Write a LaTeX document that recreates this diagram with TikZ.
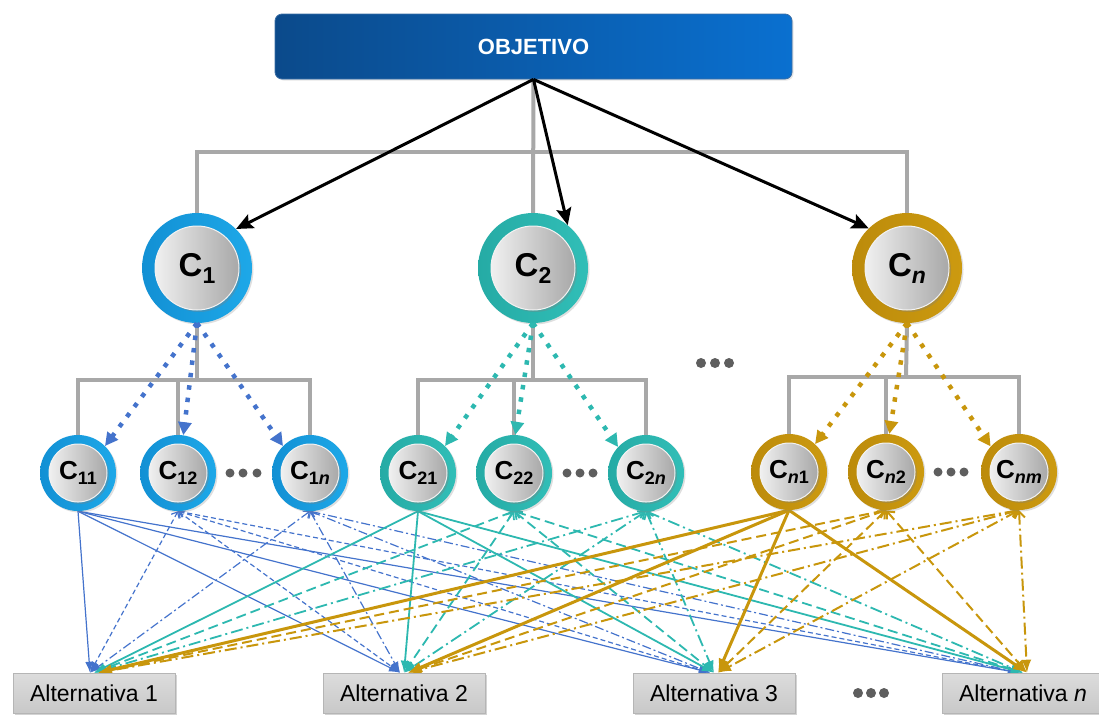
\documentclass[tikz,border=0pt]{standalone}
\usepackage{fontspec}
\setmainfont{Liberation Sans}
\usetikzlibrary{arrows.meta,shadows}

\definecolor{objL}{HTML}{0B4A8B}
\definecolor{objR}{HTML}{0A70D0}
\definecolor{objEdge}{HTML}{3B6EA5}
\definecolor{ringA}{HTML}{1EA8E8}
\definecolor{ringAd}{HTML}{1290D4}
\definecolor{ringB}{HTML}{31BEB7}
\definecolor{ringBd}{HTML}{25ABA5}
\definecolor{ringC}{HTML}{CC9A10}
\definecolor{ringCd}{HTML}{BC8B0B}
\definecolor{lnA}{HTML}{4473CC}
\definecolor{lnB}{HTML}{2DB8B0}
\definecolor{lnC}{HTML}{C8960C}
\definecolor{bracket}{HTML}{A8A8A8}
\definecolor{dotgray}{HTML}{5E5E5E}
\definecolor{diskL}{HTML}{F0F0F0}
\definecolor{diskR}{HTML}{A8A8A8}
\definecolor{altT}{HTML}{DCDCDC}
\definecolor{altB}{HTML}{C8C8C8}
\definecolor{altEdge}{HTML}{B5B5B5}

\pgfdeclarelayer{back}
\pgfsetlayers{back,main}

\newcommand\critbig[1]{{\fontsize{33}{33}\selectfont\bfseries C\raisebox{-7pt}{\fontsize{23}{23}\selectfont #1}}}
\newcommand\critsmall[1]{{\fontsize{26}{26}\selectfont\bfseries C\raisebox{-5pt}{\fontsize{18}{18}\selectfont #1}}}

\tikzset{
  x=1pt, y=-1pt,
  objbox/.style={rectangle, rounded corners=7pt, minimum width=517pt, minimum height=65pt,
    left color=objL, right color=objR, draw=objEdge, line width=0.8pt,
    text=white, font=\bfseries\fontsize{22}{22}\selectfont,
    drop shadow={opacity=0.2, shadow xshift=1.5pt, shadow yshift=-1.5pt}},
  ring/.style={circle, inner sep=0pt, minimum size=#1,
    drop shadow={opacity=0.25, shadow xshift=1.5pt, shadow yshift=-1.5pt}},
  ringblue/.style={left color=ringAd, right color=ringA},
  ringteal/.style={left color=ringBd, right color=ringB},
  ringgold/.style={left color=ringCd, right color=ringC},
  disk/.style={circle, inner sep=0pt, minimum size=#1,
    left color=diskL, right color=diskR, draw=white!90!gray, line width=1pt,
    drop shadow={opacity=0.35, shadow xshift=2pt, shadow yshift=-2pt}},
  altbox/.style={rectangle, minimum width=162pt, minimum height=40pt,
    top color=altT, bottom color=altB, draw=altEdge, line width=0.6pt,
    font=\fontsize{23}{23}\selectfont,
    drop shadow={opacity=0.35, shadow xshift=2pt, shadow yshift=-2pt}},
  dotmark/.style={circle, inner sep=0pt, minimum size=#1, fill=dotgray},
  conn/.style={draw=bracket, line width=4pt},
  toplink/.style={draw=black, line width=3pt, -{Stealth[length=17pt,width=15pt,inset=3pt]}},
  subarrow/.style={draw=#1, line width=4.5pt, dash pattern=on 4.5pt off 8pt,
    -{Triangle[length=13pt,width=13pt]}},
  % links from sub-criteria to alternatives
  lA1/.style={draw=lnA, line width=1.2pt, -{Latex[length=11pt,width=8pt]}},
  lA2/.style={draw=lnA, line width=1.2pt, dash pattern=on 5pt off 3pt,
    {Straight Barb[length=5pt,width=9pt]}-{Latex[length=11pt,width=8pt]}},
  lA3/.style={draw=lnA, line width=1.2pt, dash pattern=on 9pt off 3pt on 2pt off 3pt,
    {Straight Barb[length=5pt,width=9pt]}-{Latex[length=11pt,width=8pt]}},
  lB1/.style={draw=lnB, line width=1.8pt, -{Latex[length=12pt,width=9pt]}},
  lB2/.style={draw=lnB, line width=1.8pt, dash pattern=on 10pt off 5pt,
    {Straight Barb[length=6pt,width=10pt]}-{Latex[length=12pt,width=9pt]}},
  lB3/.style={draw=lnB, line width=1.8pt, dash pattern=on 12pt off 4pt on 2pt off 4pt,
    {Straight Barb[length=6pt,width=10pt]}-{Latex[length=12pt,width=9pt]}},
  lC1/.style={draw=lnC, line width=3pt, -{Latex[length=14pt,width=11pt]}},
  lC2/.style={draw=lnC, line width=2pt, dash pattern=on 10pt off 5pt,
    {Straight Barb[length=6pt,width=11pt]}-{Latex[length=13pt,width=10pt]}},
  lC3/.style={draw=lnC, line width=2pt, dash pattern=on 12pt off 4pt on 2pt off 4pt,
    {Straight Barb[length=6pt,width=11pt]}-{Latex[length=13pt,width=10pt]}},
}

\begin{document}
\begin{tikzpicture}
\useasboundingbox (0,0) rectangle (1099,716);

% goal
\node[objbox] (obj) at (533.5,46.5) {OBJETIVO};

% main criteria
\node[ring=110pt, ringblue] (c1) at (197,268) {};
\node[disk=84pt] (c1i) at (c1) {\critbig{1}};
\node[ring=110pt, ringteal] (c2) at (533,268) {};
\node[disk=84pt] (c2i) at (c2) {\critbig{2}};
\node[ring=110pt, ringgold] (cn) at (907,268) {};
\node[disk=84pt] (cni) at (cn) {\critbig{\itshape n}};

% sub-criteria
\node[ring=76pt, ringblue] (c11) at (78,473) {};
\node[disk=58pt] (c11i) at (c11) {\critsmall{11}};
\node[ring=76pt, ringblue] (c12) at (178,473) {};
\node[disk=58pt] (c12i) at (c12) {\critsmall{12}};
\node[ring=76pt, ringblue] (c1n) at (310,473) {};
\node[disk=58pt] (c1ni) at (c1n) {\critsmall{1\itshape n}};

\node[ring=76pt, ringteal] (c21) at (418,473) {};
\node[disk=58pt] (c21i) at (c21) {\critsmall{21}};
\node[ring=76pt, ringteal] (c22) at (514,473) {};
\node[disk=58pt] (c22i) at (c22) {\critsmall{22}};
\node[ring=76pt, ringteal] (c2n) at (646,473) {};
\node[disk=58pt] (c2ni) at (c2n) {\critsmall{2\itshape n}};

\node[ring=76pt, ringgold] (cn1) at (789,472) {};
\node[disk=58pt] (cn1i) at (cn1) {\critsmall{{\itshape n}1}};
\node[ring=76pt, ringgold] (cn2) at (886,472) {};
\node[disk=58pt] (cn2i) at (cn2) {\critsmall{{\itshape n}2}};
\node[ring=76pt, ringgold] (cnm) at (1019,472) {};
\node[disk=58pt] (cnmi) at (cnm) {\critsmall{\itshape nm}};

% ellipsis marks
\foreach \x [count=\i] in {230,243,257} \node[dotmark=9pt] (ea\i) at (\x,473) {};
\foreach \x [count=\i] in {567,580,593} \node[dotmark=9pt] (eb\i) at (\x,473) {};
\foreach \x [count=\i] in {938,951,964} \node[dotmark=9pt] (ec\i) at (\x,472) {};
\foreach \x [count=\i] in {701,715,729} \node[dotmark=10pt] (em\i) at (\x,363) {};
\foreach \x [count=\i] in {858,871,884} \node[dotmark=10pt] (ed\i) at (\x,693) {};

% alternatives
\node[altbox] (a1) at (94,693) {Alternativa 1};
\node[altbox] (a2) at (404,693) {Alternativa 2};
\node[altbox] (a3) at (714,693) {Alternativa 3};
\node[altbox] (an) at (1023,693) {Alternativa \textit{n}};

% hierarchy brackets
\begin{pgfonlayer}{back}
  \coordinate (h0) at (533,152);
  \draw[conn] (obj.south) -- (c2.north);
  \draw[conn] (c1.north) |- (h0) -| (cn.north);

  \coordinate (h1) at (197,380);
  \draw[conn] (c1.south) -- (h1);
  \draw[conn] (c11.north) |- (h1) -| (c1n.north);
  \draw[conn] (c12.north) -- (c12.north |- h1);

  \coordinate (h2) at (533,380);
  \draw[conn] (c2.south) -- (h2);
  \draw[conn] (c21.north) |- (h2) -| (c2n.north);
  \draw[conn] (c22.north) -- (c22.north |- h2);

  \coordinate (h3) at (906,377);
  \draw[conn] (cn.south) -- (h3);
  \draw[conn] (cn1.north) |- (h3) -| (cnm.north);
  \draw[conn] (cn2.north) -- (cn2.north |- h3);

  % sub-criteria to alternatives
  \foreach \a in {a1,a2,a3,an} {
    \draw[lA1] (c11.south) -- ([xshift=-4pt]\a.north);
    \draw[lA2] (c12.south) -- ([xshift=-4pt]\a.north);
    \draw[lA3] (c1n.south) -- ([xshift=-4pt]\a.north);
  }
  \foreach \a in {a1,a2,a3,an} {
    \draw[lB1] (c21.south) -- (\a.north);
    \draw[lB2] (c22.south) -- (\a.north);
    \draw[lB3] (c2n.south) -- (\a.north);
  }
  \foreach \a in {a1,a2,a3,an} {
    \draw[lC1] (cn1.south) -- ([xshift=4pt]\a.north);
    \draw[lC2] (cn2.south) -- ([xshift=4pt]\a.north);
    \draw[lC3] (cnm.south) -- ([xshift=4pt]\a.north);
  }
\end{pgfonlayer}

% goal to criteria
\draw[toplink] (obj.south) -- (c1.45);
\draw[toplink] (obj.south) -- (c2.51);
\draw[toplink] (obj.south) -- (cn.134);

% criteria to sub-criteria
\draw[subarrow=lnA] (c1.south) -- (c11.45);
\draw[subarrow=lnA] (c1.south) -- (c12.82);
\draw[subarrow=lnA] (c1.south) -- (c1n.135);
\draw[subarrow=lnB] (c2.south) -- (c21.45);
\draw[subarrow=lnB] (c2.south) -- (c22.88);
\draw[subarrow=lnB] (c2.south) -- (c2n.137);
\draw[subarrow=lnC] (cn.south) -- (cn1.47);
\draw[subarrow=lnC] (cn.south) -- (cn2.85);
\draw[subarrow=lnC] (cn.south) -- (cnm.138);
\end{tikzpicture}
\end{document}
